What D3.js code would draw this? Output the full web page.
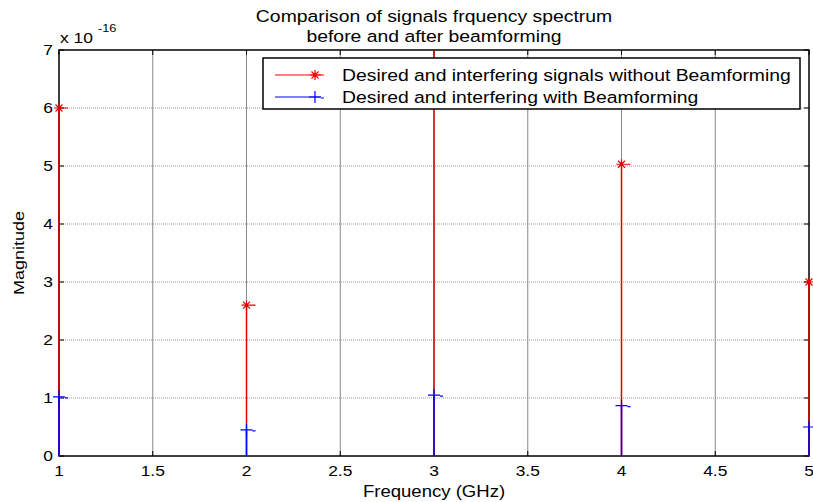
<!DOCTYPE html>
<html>
<head>
<meta charset="utf-8">
<script src="https://cdn.jsdelivr.net/npm/d3@7"></script>
<style>
  body { margin: 0; background: #fff; }
  text { font-family: "Liberation Sans", Arial, sans-serif; fill: #000; }
</style>
</head>
<body>
<svg id="chart" width="813" height="502"></svg>
<script>
// Data (magnitudes in units of 1e-16)
const frequencies = [1, 2, 3, 4, 5];
const withoutBeamforming = [6.0, 2.6, 7.6, 5.03, 3.0];
const withBeamforming = [1.02, 0.45, 1.05, 0.87, 0.5];
const xTicks = [1, 1.5, 2, 2.5, 3, 3.5, 4, 4.5, 5];
const yTicks = [0, 1, 2, 3, 4, 5, 6, 7];
const seriesNames = [
    'Desired and interfering signals without Beamforming',
    'Desired and interfering with Beamforming'
];

const svg = d3.select('#chart');
const margin = { top: 50, right: 4, bottom: 46, left: 59 };
const width = 813 - margin.left - margin.right;
const height = 502 - margin.top - margin.bottom;
const sx = 1.16; // the picture is stretched sideways

const xScale = d3.scaleLinear().domain([1, 5]).range([0, width]);
const yScale = d3.scaleLinear().domain([0, 7]).range([height, 0]);

// helper for stretched text
function label(parent, x, y, str, size, anchor, rot) {
    return parent.append('text')
        .attr('transform', `translate(${x},${y}) rotate(${rot || 0}) scale(${sx},1)`)
        .attr('font-size', size)
        .attr('text-anchor', anchor || 'middle')
        .text(str);
}

const g = svg.append('g')
    .attr('transform', `translate(${margin.left},${margin.top})`);

// clip only the top, so edge markers stay visible
svg.append('defs').append('clipPath').attr('id', 'clip')
    .append('rect').attr('x', -20).attr('width', width + 40).attr('height', height + 10);

// grid
g.selectAll('.vgrid')
    .data(xTicks.slice(1, -1))
    .enter().append('line')
    .attr('x1', d => xScale(d)).attr('x2', d => xScale(d))
    .attr('y1', 0).attr('y2', height)
    .attr('stroke', '#888').attr('stroke-width', 1);

g.selectAll('.hgrid')
    .data(yTicks.slice(1, -1))
    .enter().append('line')
    .attr('x1', 0).attr('x2', width)
    .attr('y1', d => yScale(d)).attr('y2', d => yScale(d))
    .attr('stroke', '#999').attr('stroke-width', 1)
    .attr('stroke-dasharray', '1,1');

// axes box and inside ticks
g.append('rect')
    .attr('width', width).attr('height', height)
    .attr('fill', 'none').attr('stroke', '#000').attr('stroke-width', 1.5);

const tickLen = 5;
g.selectAll('.xtick')
    .data(xTicks)
    .enter().append('path')
    .attr('d', d => `M${xScale(d)},${height}v${-tickLen}M${xScale(d)},0v${tickLen}`)
    .attr('stroke', '#000');
g.selectAll('.ytick')
    .data(yTicks)
    .enter().append('path')
    .attr('d', d => `M0,${yScale(d)}h${tickLen}M${width},${yScale(d)}h${-tickLen}`)
    .attr('stroke', '#000');

// stems
const starPath = 'M-5,0H5M0,-5V5M-3.5,-3.5L3.5,3.5M-3.5,3.5L3.5,-3.5M5,0H9';
const plusPath = 'M-6,0H6M0,-6V6M6,1H9';
function drawStems(values, color, marker) {
    const s = g.append('g').attr('clip-path', 'url(#clip)');
    s.selectAll('line')
        .data(values)
        .enter().append('line')
        .attr('x1', (d, i) => xScale(frequencies[i]))
        .attr('x2', (d, i) => xScale(frequencies[i]))
        .attr('y1', yScale(0))
        .attr('y2', d => yScale(d))
        .attr('stroke', color).attr('stroke-width', 1.5);
    s.selectAll('path')
        .data(values)
        .enter().append('path')
        .attr('transform', (d, i) => `translate(${xScale(frequencies[i])},${yScale(d)})`)
        .attr('d', marker)
        .attr('stroke', color).attr('stroke-width', 1.2).attr('fill', 'none');
}
drawStems(withoutBeamforming, '#e00000', starPath);
drawStems(withBeamforming, '#0000ff', plusPath);

// tick labels
xTicks.forEach(d => label(g, xScale(d), height + 20, d, 15, 'middle'));
yTicks.forEach(d => label(g, -6, yScale(d) + 5, d, 15, 'end'));

// exponent
label(svg, 60, 43, 'x 10', 15, 'start');
label(svg, 98, 32, '-16', 11, 'start');

// titles
label(svg, 434, 22, 'Comparison of signals frquency spectrum', 16.7, 'middle');
label(svg, 434, 42, 'before and after beamforming', 16.7, 'middle');
label(svg, 434, 497, 'Frequency (GHz)', 16, 'middle');
label(svg, 24, 253, 'Magnitude', 15.5, 'middle', -90);

// legend
const lg = svg.append('g').attr('transform', 'translate(263,58)');
lg.append('rect')
    .attr('width', 537).attr('height', 51)
    .attr('fill', '#fff').attr('stroke', '#000').attr('stroke-width', 1.5);
const legendColors = ['#ff0000', '#0000ff'];
const legendMarks = [starPath, plusPath];
seriesNames.forEach((name, i) => {
    const y = 17 + i * 22;
    lg.append('line')
        .attr('x1', 12).attr('x2', 58).attr('y1', y).attr('y2', y)
        .attr('stroke', legendColors[i]).attr('stroke-width', 1);
    lg.append('path')
        .attr('transform', `translate(52,${y})`)
        .attr('d', legendMarks[i])
        .attr('stroke', legendColors[i]).attr('stroke-width', 1.2).attr('fill', 'none');
    label(lg, 79, y + 6, name, 16.7, 'start');
});
</script>
</body>
</html>
